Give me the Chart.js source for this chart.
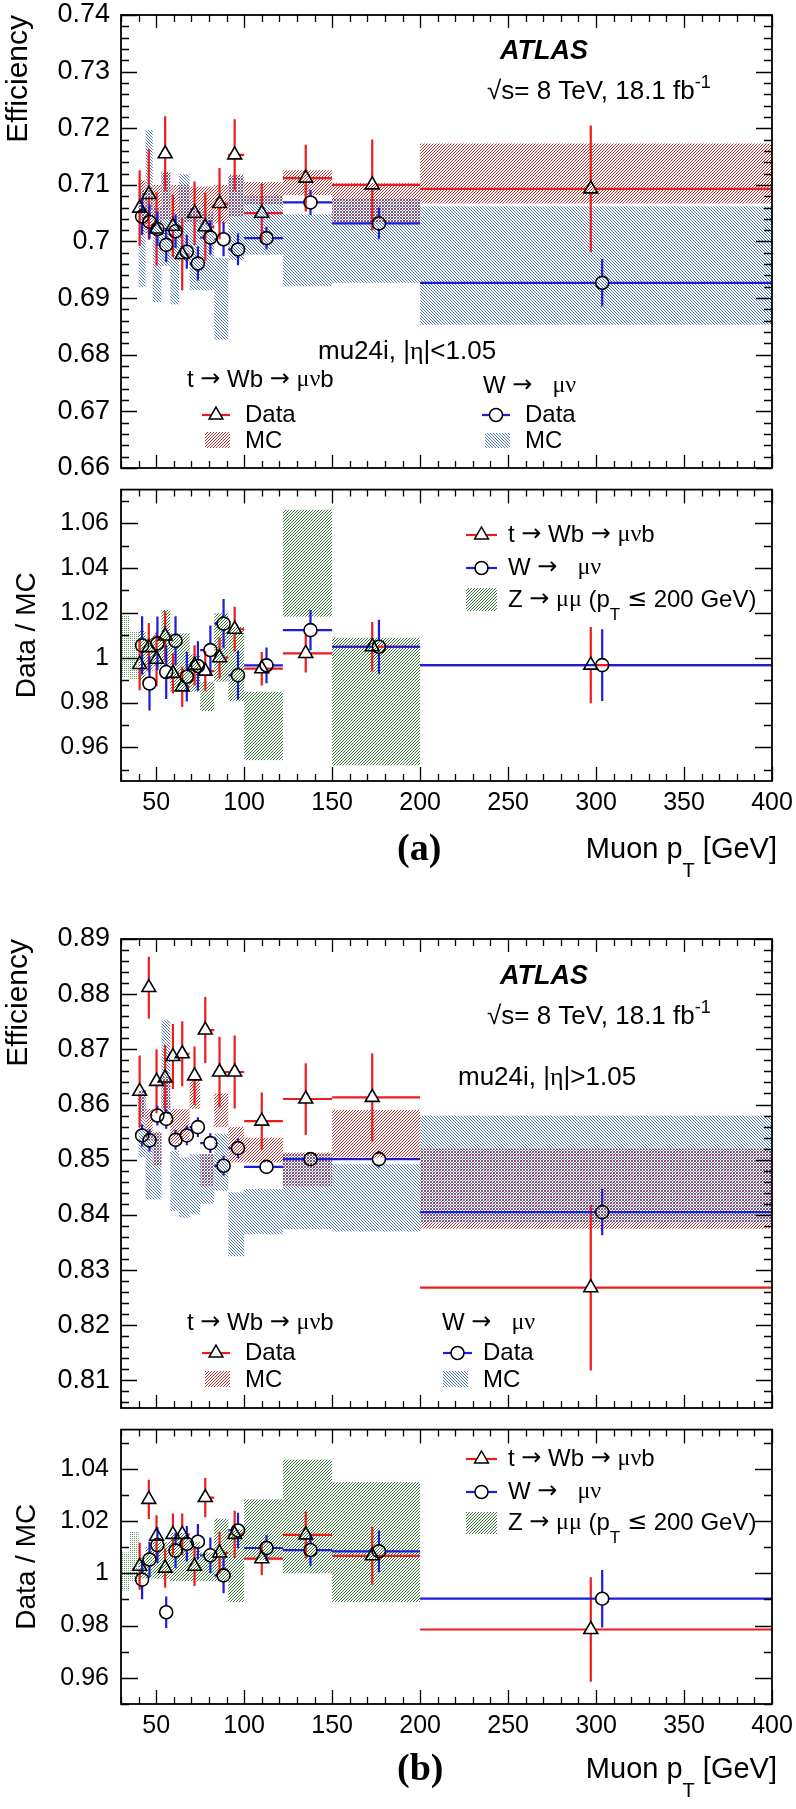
<!DOCTYPE html>
<html>
<head>
<meta charset="utf-8">
<title>mu24i trigger efficiency vs muon pT</title>
<script src="https://cdn.jsdelivr.net/npm/chart.js@4.4.1/dist/chart.umd.min.js"></script>
<style>
  body { margin: 0; background: #fff; }
  #page { position: relative; width: 796px; height: 1809px; background: #fff; }
  #page canvas { position: absolute; left: 0; }
</style>
</head>
<body>
<div id="page">
  <canvas id="effA" width="796" height="480" style="top:0px"></canvas>
  <canvas id="ratA" width="796" height="400" style="top:480px"></canvas>
  <canvas id="effB" width="796" height="540" style="top:880px"></canvas>
  <canvas id="ratB" width="796" height="389" style="top:1420px"></canvas>
</div>
<script>
const FONT = "'Liberation Sans', Arial, Helvetica, sans-serif";
const SERIF = "'Liberation Serif', 'Times New Roman', serif";
const SYMF = "'DejaVu Sans', sans-serif";
const RED = '#ee1b1b';
const BLUE = '#1c1ce0';

// muon pT bins [GeV]
const binLo = [40, 44, 48, 53, 58, 63, 69, 75, 83, 91, 100, 122, 150, 200];
const binHi = [44, 48, 53, 58, 63, 69, 75, 83, 91, 100, 122, 150, 200, 400];
// marker positions: t->Wb points sit a bit left, W points a bit right
const ttX = [40.6, 45.8, 50.2, 55.1, 59.5, 64.8, 71.8, 77.9, 86, 94.6, 110, 135, 172.8, 297];
const wX  = [42, 46.2, 50.7, 55.7, 61, 67.4, 73.7, 80.8, 88.3, 96.5, 112.7, 137.7, 176.6, 303.5];

// (a) |eta| < 1.05
const ttEffA  = [0.7059, 0.7083, 0.7022, 0.7155, 0.7027, 0.6977, 0.7050, 0.7026, 0.7067, 0.7153, 0.7050, 0.7112, 0.7100, 0.7093];
const ttErrA  = [0.0067, 0.0080, 0.0065, 0.0066, 0.0055, 0.0063, 0.0056, 0.0060, 0.0063, 0.0063, 0.0052, 0.0059, 0.0080, 0.0112];
const ttMcLoA = [0.7035, 0.7015, 0.7030, 0.7040, 0.7035, 0.7035, 0.7035, 0.7030, 0.7032, 0.7045, 0.7065, 0.7082, 0.7032, 0.7067];
const ttMcHiA = [0.7108, 0.7095, 0.7100, 0.7123, 0.7100, 0.7100, 0.7097, 0.7097, 0.7100, 0.7118, 0.7105, 0.7126, 0.7103, 0.7173];
const wEffA   = [0.7044, 0.7035, 0.7022, 0.6994, 0.7018, 0.6982, 0.6961, 0.7007, 0.7004, 0.6986, 0.7006, 0.7069, 0.7032, 0.6927];
const wErrA   = [0.0032, 0.0030, 0.0030, 0.0030, 0.0030, 0.0030, 0.0030, 0.0030, 0.0030, 0.0028, 0.0020, 0.0022, 0.0028, 0.0042];
const wMcLoA  = [0.6920, 0.7055, 0.6893, 0.6957, 0.6889, 0.6965, 0.6914, 0.6914, 0.6827, 0.6967, 0.6977, 0.6921, 0.6927, 0.6853];
const wMcHiA  = [0.7090, 0.7197, 0.7060, 0.7121, 0.7043, 0.7119, 0.7060, 0.7052, 0.6971, 0.7115, 0.7080, 0.7048, 0.7075, 0.7062];

const ttRatioA    = [0.9970, 1.0045, 0.9993, 1.0097, 0.9930, 0.9870, 0.9966, 0.9940, 1.0000, 1.0127, 0.9951, 1.0019, 1.0049, 0.9967];
const ttRatioErrA = [0.0115, 0.0110, 0.0120, 0.0110, 0.0090, 0.0090, 0.0090, 0.0090, 0.0090, 0.0100, 0.0075, 0.0085, 0.0110, 0.0170];
const wRatioA     = [1.0055, 0.9885, 1.0064, 0.9936, 1.0075, 0.9915, 0.9963, 1.0034, 1.0152, 0.9922, 0.9966, 1.0123, 1.0049, 0.9967];
const wRatioErrA  = [0.0130, 0.0120, 0.0120, 0.0120, 0.0110, 0.0110, 0.0110, 0.0110, 0.0110, 0.0110, 0.0080, 0.0090, 0.0120, 0.0160];

// (b) |eta| > 1.05
const ttEffB  = [0.8624, 0.8812, 0.8642, 0.8648, 0.8687, 0.8692, 0.8652, 0.8735, 0.8659, 0.8659, 0.8570, 0.8610, 0.8613, 0.8268];
const ttErrB  = [0.0065, 0.0056, 0.0058, 0.0060, 0.0059, 0.0059, 0.0053, 0.0060, 0.0064, 0.0066, 0.0052, 0.0065, 0.0080, 0.0150];
const ttMcLoB = [0.8575, 0.8535, 0.8490, 0.8592, 0.8529, 0.8535, 0.8592, 0.8453, 0.8559, 0.8495, 0.8495, 0.8453, 0.8504, 0.8375];
const ttMcHiB = [0.8625, 0.8592, 0.8550, 0.8650, 0.8592, 0.8592, 0.8644, 0.8510, 0.8620, 0.8559, 0.8540, 0.8513, 0.8590, 0.8520];
const wEffB   = [0.8544, 0.8535, 0.8580, 0.8574, 0.8536, 0.8544, 0.8559, 0.8530, 0.8489, 0.8521, 0.8487, 0.8501, 0.8501, 0.8405];
const wErrB   = [0.0020, 0.0020, 0.0018, 0.0018, 0.0018, 0.0018, 0.0018, 0.0018, 0.0018, 0.0018, 0.0010, 0.0012, 0.0015, 0.0042];
const wMcLoB  = [0.8505, 0.8428, 0.8428, 0.8583, 0.8407, 0.8395, 0.8401, 0.8420, 0.8444, 0.8325, 0.8365, 0.8374, 0.8370, 0.8385];
const wMcHiB  = [0.8625, 0.8547, 0.8548, 0.8753, 0.8516, 0.8504, 0.8510, 0.8510, 0.8547, 0.8441, 0.8447, 0.8510, 0.8492, 0.8580];

const ttRatioB    = [1.0027, 1.0283, 1.0142, 1.0020, 1.0149, 1.0149, 1.0027, 1.0290, 1.0078, 1.0149, 1.0056, 1.0147, 1.0067, 0.9785];
const ttRatioErrB = [0.0090, 0.0075, 0.0080, 0.0075, 0.0080, 0.0080, 0.0075, 0.0075, 0.0080, 0.0090, 0.0063, 0.0090, 0.0110, 0.0200];
const wRatioB     = [0.9976, 1.0053, 1.0108, 0.9851, 1.0087, 1.0113, 1.0121, 1.0069, 0.9992, 1.0164, 1.0097, 1.0089, 1.0084, 0.9903];
const wRatioErrB  = [0.0075, 0.0068, 0.0068, 0.0060, 0.0068, 0.0068, 0.0068, 0.0068, 0.0068, 0.0068, 0.0050, 0.0060, 0.0080, 0.0110];

// Z -> mumu band (ratio pads only), own binning; first two bins are below plateau (dotted)
const zLo = [30, 35, 40, 44, 48, 53, 58, 63, 69, 75, 83, 91, 100, 122, 150];
const zHi = [35, 40, 44, 48, 53, 58, 63, 69, 75, 83, 91, 100, 122, 150, 200];
const zBandLoA = [0.9910, 0.9900, 0.9900, 0.9940, 0.9960, 0.9967, 0.9848, 0.9848, 0.9848, 0.9762, 0.9893, 0.9806, 0.9543, 1.0183, 0.9520];
const zBandHiA = [1.0190, 1.0120, 1.0120, 1.0090, 1.0100, 1.0213, 1.0109, 1.0109, 1.0015, 0.9893, 1.0198, 1.0138, 0.9848, 1.0660, 1.0089];
const zBandLoB = [0.9934, 0.9970, 0.9980, 0.9980, 0.9980, 0.9980, 0.9970, 0.9970, 0.9970, 0.9970, 0.9970, 0.9890, 1.0050, 1.0000, 0.9890];
const zBandHiB = [1.0080, 1.0162, 1.0060, 1.0100, 1.0120, 1.0120, 1.0155, 1.0155, 1.0120, 1.0080, 1.0209, 1.0168, 1.0283, 1.0435, 1.0349];
const zDotted = 2;

// --- hatch patterns like ROOT fill styles
function hatchTile(rgb, kind) {
  const c = document.createElement('canvas');
  c.width = 6; c.height = 6;
  const g = c.getContext('2d');
  const img = g.createImageData(6, 6);
  for (let y = 0; y < 6; y++) {
    for (let x = 0; x < 6; x++) {
      let on;
      if (kind === '/') on = (x + y) % 3 === 0;
      else if (kind === '\\') on = ((x - y) % 3 + 3) % 3 === 0;
      else on = x % 2 === 0 && y % 2 === 0;
      if (on) {
        const i = (y * 6 + x) * 4;
        img.data[i] = rgb[0]; img.data[i + 1] = rgb[1]; img.data[i + 2] = rgb[2]; img.data[i + 3] = 255;
      }
    }
  }
  g.putImageData(img, 0, 0);
  return c;
}
const tiles = {
  red: hatchTile([190, 50, 50], '/'),
  blue: hatchTile([80, 120, 190], '\\'),
  green: hatchTile([55, 120, 55], '/'),
  greenDot: hatchTile([100, 160, 100], '.')
};

function drawBands(chart, lo, hi, ylo, yhi, tile, first, last) {
  const ctx = chart.ctx, xs = chart.scales.x, ys = chart.scales.y;
  ctx.fillStyle = ctx.createPattern(tiles[tile], 'repeat');
  for (let i = first || 0; i < (last === undefined ? lo.length : last); i++) {
    const x0 = xs.getPixelForValue(lo[i]), x1 = xs.getPixelForValue(hi[i]);
    const y0 = ys.getPixelForValue(yhi[i]), y1 = ys.getPixelForValue(ylo[i]);
    ctx.fillRect(x0, y0, x1 - x0, y1 - y0);
  }
}

function drawErrs(chart, px, py, pe, color, shape) {
  const ctx = chart.ctx, xs = chart.scales.x, ys = chart.scales.y;
  const r = shape === 'triangle' ? 8 : 6.5;
  const gTop = r, gBot = shape === 'triangle' ? r * 0.5 : r, gSide = shape === 'triangle' ? r * 0.6 : r;
  ctx.strokeStyle = color;
  ctx.lineWidth = 2.2;
  ctx.beginPath();
  px.forEach((xv, i) => {
    const x = xs.getPixelForValue(xv), y = ys.getPixelForValue(py[i]);
    const yT = ys.getPixelForValue(py[i] + pe[i]), yB = ys.getPixelForValue(py[i] - pe[i]);
    const xL = xs.getPixelForValue(binLo[i]), xR = xs.getPixelForValue(binHi[i]);
    if (yT < y - gTop) { ctx.moveTo(x, yT); ctx.lineTo(x, y - gTop); }
    if (yB > y + gBot) { ctx.moveTo(x, y + gBot); ctx.lineTo(x, yB); }
    if (xL < x - gSide) { ctx.moveTo(xL, y); ctx.lineTo(x - gSide, y); }
    if (xR > x + gSide) { ctx.moveTo(x + gSide, y); ctx.lineTo(xR, y); }
  });
  ctx.stroke();
}

function drawFrame(chart, c) {
  const ctx = chart.ctx, a = chart.chartArea, xs = chart.scales.x, ys = chart.scales.y;
  ctx.save();
  ctx.strokeStyle = '#000';
  ctx.lineWidth = 1.3;
  ctx.beginPath();
  const ny = Math.round(c.yMajor / c.yMinor);
  for (let k = Math.ceil(ys.min / c.yMinor - 1e-6); k * c.yMinor <= ys.max + 1e-9; k++) {
    const y = Math.round(ys.getPixelForValue(k * c.yMinor)) + 0.5;
    const len = k % ny === 0 ? c.yTick[0] : c.yTick[1];
    ctx.moveTo(a.left, y); ctx.lineTo(a.left + len, y);
    ctx.moveTo(a.right, y); ctx.lineTo(a.right - len, y);
  }
  for (let k = 3; k <= 40; k++) {
    const x = Math.round(xs.getPixelForValue(k * 10)) + 0.5;
    const len = k % 5 === 0 ? c.xTick[0] : c.xTick[1];
    ctx.moveTo(x, a.bottom); ctx.lineTo(x, a.bottom - len);
    ctx.moveTo(x, a.top); ctx.lineTo(x, a.top + len);
  }
  ctx.stroke();
  ctx.lineWidth = 1.8;
  ctx.strokeRect(a.left, a.top, a.right - a.left, a.bottom - a.top);
  ctx.restore();
}

// --- text helpers
function txt(ctx, s, x, y, size, style, family, align) {
  ctx.font = (style || '') + ' ' + size + 'px ' + (family || FONT);
  ctx.fillStyle = '#000';
  ctx.textAlign = align || 'left';
  ctx.textBaseline = 'middle';
  ctx.fillText(s, x, y);
}
// parts: [text, 'sub' | 'sup' | '', family]
function rich(ctx, parts, x, y, size, align, subDrop) {
  const fontOf = p => (p[1] ? Math.round(size * 0.7) : size) + 'px ' + (p[2] || FONT);
  let w = 0;
  parts.forEach(p => { ctx.font = fontOf(p); w += ctx.measureText(p[0]).width; });
  let cx = align === 'right' ? x - w : x;
  ctx.textAlign = 'left'; ctx.textBaseline = 'middle'; ctx.fillStyle = '#000';
  parts.forEach(p => {
    ctx.font = fontOf(p);
    const dy = p[1] === 'sub' ? size * (subDrop || 0.62) : p[1] === 'sup' ? -size * 0.36 : 0;
    ctx.fillText(p[0], cx, y + dy);
    cx += ctx.measureText(p[0]).width;
  });
}
// split arrows and greek letters into ROOT-like symbol fonts
function sym(s) {
  const out = [];
  for (const ch of s) {
    const fam = ch === '→' || ch === '≤' ? SYMF : (ch === 'μ' || ch === 'ν') ? SERIF : FONT;
    const last = out[out.length - 1];
    if (last && last[2] === fam) last[0] += ch; else out.push([ch, '', fam]);
  }
  return out;
}
function mark(ctx, shape, x, y) {
  ctx.beginPath();
  if (shape === 'triangle') {
    const r = 8;
    ctx.moveTo(x, y - r);
    ctx.lineTo(x + r * 0.866, y + r * 0.5);
    ctx.lineTo(x - r * 0.866, y + r * 0.5);
    ctx.closePath();
  } else {
    ctx.arc(x, y, 6.5, 0, Math.PI * 2);
  }
  ctx.fillStyle = '#fff'; ctx.fill();
  ctx.strokeStyle = '#000'; ctx.lineWidth = 1.5; ctx.stroke();
}
function legLine(ctx, x0, x1, y, color, shape) {
  ctx.strokeStyle = color; ctx.lineWidth = 2.2;
  ctx.beginPath(); ctx.moveTo(x0, y); ctx.lineTo(x1, y); ctx.stroke();
  mark(ctx, shape, (x0 + x1) / 2, y);
}
function legBox(ctx, x0, y0, x1, y1, tile) {
  ctx.fillStyle = ctx.createPattern(tiles[tile], 'repeat');
  ctx.fillRect(x0, y0, x1 - x0, y1 - y0);
}
const zLabel = sym('Z → μμ (p').concat([['T', 'sub', FONT]], sym(' ≤ 200 GeV)'));

// --- per pad configuration
const padCfg = {
  effA: {
    yMinor: 0.002, yMajor: 0.01, yTick: [16, 8], xTick: [13, 7],
    under(chart) {
      drawBands(chart, binLo, binHi, ttMcLoA, ttMcHiA, 'red');
      drawBands(chart, binLo, binHi, wMcLoA, wMcHiA, 'blue');
      drawErrs(chart, ttX, ttEffA, ttErrA, RED, 'triangle');
      drawErrs(chart, wX, wEffA, wErrA, BLUE, 'circle');
    },
    notes(ctx) {
      txt(ctx, 'ATLAS', 500, 52, 27, 'italic bold');
      rich(ctx, [['√s= 8 TeV, 18.1 fb'], ['-1', 'sup']], 487, 92, 26);
      rich(ctx, [['mu24i, |'], ['η', '', SERIF], ['|<1.05']], 318, 352, 26);
      rich(ctx, sym('t → Wb → μνb'), 187, 380, 24);
      legLine(ctx, 202, 230, 415, RED, 'triangle');
      txt(ctx, 'Data', 245, 415, 24);
      legBox(ctx, 205, 432, 230, 448, 'red');
      txt(ctx, 'MC', 245, 441, 24);
      rich(ctx, sym('W →   μν'), 483, 386, 24);
      legLine(ctx, 482, 510, 415, BLUE, 'circle');
      txt(ctx, 'Data', 525, 415, 24);
      legBox(ctx, 485, 433, 510, 448, 'blue');
      txt(ctx, 'MC', 525, 441, 24);
    }
  },
  ratA: {
    yMinor: 0.01, yMajor: 0.02, yTick: [17, 8], xTick: [14, 7],
    under(chart) {
      drawBands(chart, zLo, zHi, zBandLoA, zBandHiA, 'greenDot', 0, zDotted);
      drawBands(chart, zLo, zHi, zBandLoA, zBandHiA, 'green', zDotted);
      drawErrs(chart, ttX, ttRatioA, ttRatioErrA, RED, 'triangle');
      drawErrs(chart, wX, wRatioA, wRatioErrA, BLUE, 'circle');
    },
    notes(ctx) {
      legLine(ctx, 466, 497, 55, RED, 'triangle');
      rich(ctx, sym('t → Wb → μνb'), 508, 55, 24);
      legLine(ctx, 466, 497, 88, BLUE, 'circle');
      rich(ctx, sym('W →   μν'), 508, 88, 24);
      legBox(ctx, 466, 108, 497, 131, 'green');
      rich(ctx, zLabel, 508, 120, 24);
      txt(ctx, '(a)', 397, 370, 38, 'bold', SERIF);
      rich(ctx, [['Muon p'], ['T', 'sub'], [' [GeV]']], 777, 370, 29, 'right', 0.75);
    }
  },
  effB: {
    yMinor: 0.002, yMajor: 0.01, yTick: [16, 8], xTick: [13, 7],
    under(chart) {
      drawBands(chart, binLo, binHi, ttMcLoB, ttMcHiB, 'red');
      drawBands(chart, binLo, binHi, wMcLoB, wMcHiB, 'blue');
      drawErrs(chart, ttX, ttEffB, ttErrB, RED, 'triangle');
      drawErrs(chart, wX, wEffB, wErrB, BLUE, 'circle');
    },
    notes(ctx) {
      txt(ctx, 'ATLAS', 500, 97, 27, 'italic bold');
      rich(ctx, [['√s= 8 TeV, 18.1 fb'], ['-1', 'sup']], 487, 137, 26);
      rich(ctx, [['mu24i, |'], ['η', '', SERIF], ['|>1.05']], 458, 198, 26);
      rich(ctx, sym('t → Wb → μνb'), 187, 443, 24);
      legLine(ctx, 202, 230, 473, RED, 'triangle');
      txt(ctx, 'Data', 245, 473, 24);
      legBox(ctx, 205, 491, 230, 507, 'red');
      txt(ctx, 'MC', 245, 500, 24);
      rich(ctx, sym('W →   μν'), 442, 443, 24);
      legLine(ctx, 443, 472, 473, BLUE, 'circle');
      txt(ctx, 'Data', 483, 473, 24);
      legBox(ctx, 443, 491, 468, 507, 'blue');
      txt(ctx, 'MC', 483, 500, 24);
    }
  },
  ratB: {
    yMinor: 0.01, yMajor: 0.02, yTick: [17, 8], xTick: [14, 7],
    under(chart) {
      drawBands(chart, zLo, zHi, zBandLoB, zBandHiB, 'greenDot', 0, zDotted);
      drawBands(chart, zLo, zHi, zBandLoB, zBandHiB, 'green', zDotted);
      drawErrs(chart, ttX, ttRatioB, ttRatioErrB, RED, 'triangle');
      drawErrs(chart, wX, wRatioB, wRatioErrB, BLUE, 'circle');
    },
    notes(ctx) {
      legLine(ctx, 466, 497, 39, RED, 'triangle');
      rich(ctx, sym('t → Wb → μνb'), 508, 39, 24);
      legLine(ctx, 466, 497, 72, BLUE, 'circle');
      rich(ctx, sym('W →   μν'), 508, 72, 24);
      legBox(ctx, 466, 92, 497, 114, 'green');
      rich(ctx, zLabel, 508, 103, 24);
      txt(ctx, '(b)', 397, 350, 38, 'bold', SERIF);
      rich(ctx, [['Muon p'], ['T', 'sub'], [' [GeV]']], 777, 350, 29, 'right', 0.75);
    }
  }
};

const padPlugin = {
  id: 'rootPad',
  beforeDatasetsDraw(chart) {
    const a = chart.chartArea, ctx = chart.ctx;
    ctx.save();
    ctx.beginPath();
    ctx.rect(a.left, a.top, a.right - a.left, a.bottom - a.top);
    ctx.clip();
    padCfg[chart.canvas.id].under(chart);
    ctx.restore();
  },
  afterDraw(chart) {
    const c = padCfg[chart.canvas.id];
    drawFrame(chart, c);
    chart.ctx.save();
    c.notes(chart.ctx);
    chart.ctx.restore();
  }
};

function markerSet(xs, ys, shape) {
  return {
    data: xs.map((x, i) => ({ x: x, y: ys[i] })),
    pointStyle: shape,
    pointRadius: shape === 'triangle' ? 8 : 6.5,
    pointBorderWidth: 1.6,
    pointBorderColor: '#000',
    pointBackgroundColor: 'rgba(0,0,0,0)',
    showLine: false
  };
}

function makePad(id, o) {
  new Chart(document.getElementById(id), {
    type: 'scatter',
    data: { datasets: [markerSet(ttX, o.tt, 'triangle'), markerSet(wX, o.w, 'circle')] },
    options: {
      responsive: false,
      animation: false,
      devicePixelRatio: 1,
      events: [],
      layout: { padding: { left: 0, right: 24, top: o.top, bottom: o.bottom } },
      plugins: { legend: { display: false }, tooltip: { enabled: false } },
      scales: {
        x: {
          type: 'linear', min: 30, max: 400, display: o.showX,
          grid: { display: false, drawTicks: false }, border: { display: false },
          ticks: { stepSize: 50, includeBounds: false, autoSkip: false, maxRotation: 0, padding: 7,
                   color: '#000', font: { family: FONT, size: 25 } },
          afterFit(s) { s.height = o.xH; s.paddingLeft = 0; s.paddingRight = 0; }
        },
        y: {
          type: 'linear', min: o.yMin, max: o.yMax,
          grid: { display: false, drawTicks: false }, border: { display: false },
          ticks: { stepSize: o.yStep, includeBounds: false, autoSkip: false, padding: o.labPad,
                   color: '#000', font: { family: FONT, size: o.labSize },
                   callback: v => String(+v.toFixed(3)) },
          title: { display: true, text: o.title, align: o.titleAlign, color: '#000',
                   font: { family: FONT, size: o.titleSize }, padding: { top: o.titlePad, bottom: 0 } },
          afterFit(s) { s.width = 121; s.paddingTop = 0; s.paddingBottom = 0; }
        }
      }
    },
    plugins: [padPlugin]
  });
}

makePad('effA', { tt: ttEffA, w: wEffA, yMin: 0.66, yMax: 0.74, yStep: 0.01, top: 15, bottom: 12, xH: 0, showX: false,
  labSize: 27, labPad: 11, title: 'Efficiency', titleAlign: 'end', titleSize: 30, titlePad: 1 });
makePad('ratA', { tt: ttRatioA, w: wRatioA, yMin: 0.945, yMax: 1.075, yStep: 0.02, top: 8, bottom: 0, xH: 99, showX: true,
  labSize: 25, labPad: 12, title: 'Data / MC', titleAlign: 'center', titleSize: 28, titlePad: 10 });
makePad('effB', { tt: ttEffB, w: wEffB, yMin: 0.805, yMax: 0.89, yStep: 0.01, top: 59, bottom: 12, xH: 0, showX: false,
  labSize: 27, labPad: 11, title: 'Efficiency', titleAlign: 'end', titleSize: 30, titlePad: 1 });
makePad('ratB', { tt: ttRatioB, w: wRatioB, yMin: 0.95, yMax: 1.055, yStep: 0.02, top: 8, bottom: 0, xH: 105, showX: true,
  labSize: 25, labPad: 12, title: 'Data / MC', titleAlign: 'center', titleSize: 28, titlePad: 10 });
</script>
</body>
</html>
